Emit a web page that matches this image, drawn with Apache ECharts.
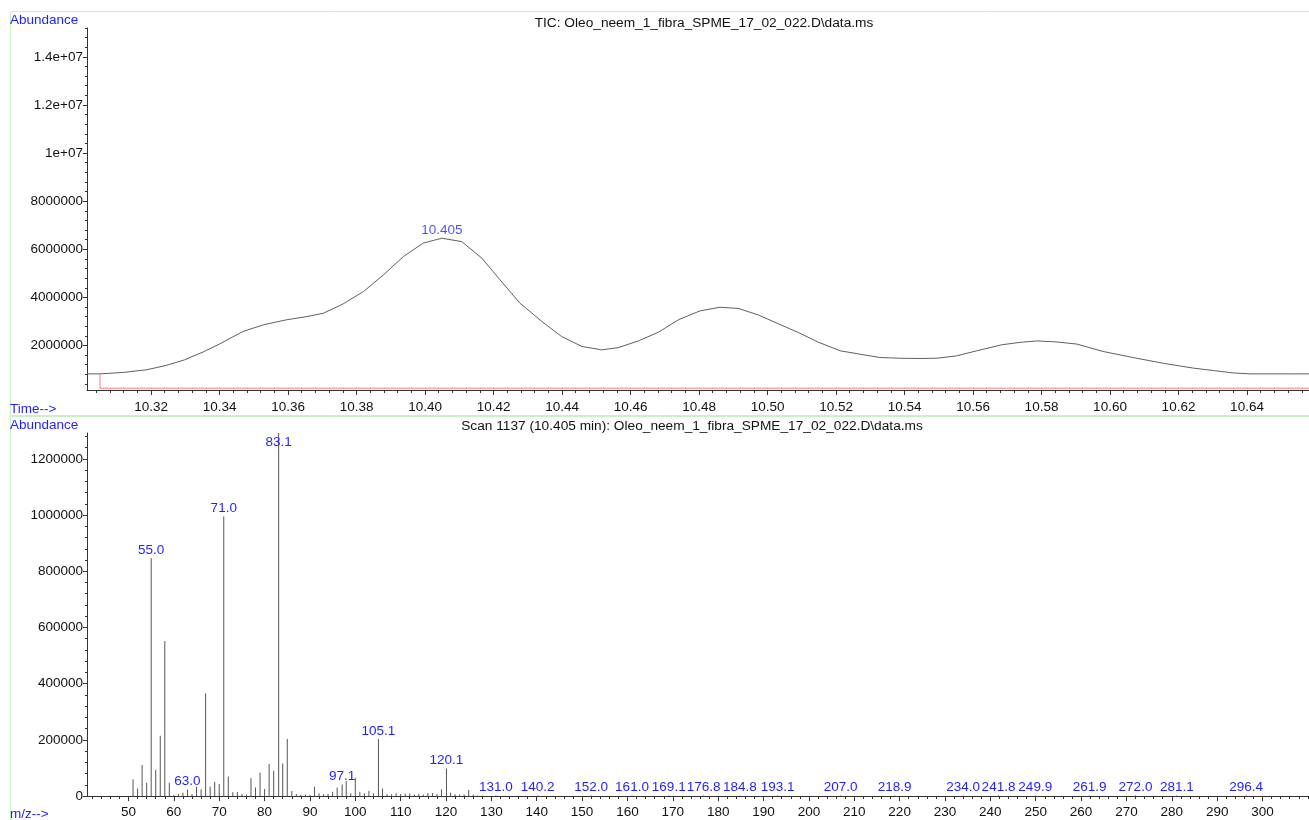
<!DOCTYPE html>
<html><head><meta charset="utf-8">
<script src="https://cdn.jsdelivr.net/npm/echarts@6/dist/echarts.min.js"></script>
<style>html,body{margin:0;padding:0;background:#fff}#c{width:1309px;height:820px}</style>
</head><body><div id="c"></div>
<script>
// ---------- TIC (top panel) ----------
const ticTimes = [10.3013,10.3051,10.3118,10.3187,10.3244,10.3297,10.3352,10.3401,10.3468,10.3528,10.3596,10.3650,10.3703,10.3761,10.3820,10.3878,10.3937,10.3995,10.4049,10.4107,10.4166,10.4219,10.4277,10.4341,10.4399,10.4458,10.4516,10.4564,10.4623,10.4681,10.4740,10.4803,10.4861,10.4915,10.4973,10.5032,10.5090,10.5148,10.5212,10.5270,10.5328,10.5387,10.5445,10.5494,10.5552,10.5611,10.5684,10.5737,10.5786,10.5842,10.5903,10.5980,10.6029,10.6078,10.6156,10.6243,10.6302,10.6360,10.6409,10.6467,10.6526,10.6581];
const ticAbund = [820000,820000,880000,990000,1170000,1400000,1730000,2070000,2580000,2860000,3070000,3190000,3340000,3730000,4240000,4930000,5700000,6260000,6460000,6320000,5630000,4730000,3760000,3000000,2370000,1960000,1820000,1910000,2190000,2550000,3070000,3440000,3590000,3540000,3270000,2900000,2540000,2140000,1780000,1640000,1500000,1470000,1460000,1470000,1570000,1780000,2030000,2130000,2190000,2150000,2060000,1750000,1610000,1470000,1260000,1060000,960000,860000,820000,820000,820000,820000];
const ticPeakTime = 10.4049;
const ticPeakAbund = 6460000;
const baselineTimes = [10.3051, 10.3051, 10.6581];
const baselineAbund = [820000, 225000, 225000];
const ticXTicks = [10.32,10.34,10.36,10.38,10.40,10.42,10.44,10.46,10.48,10.50,10.52,10.54,10.56,10.58,10.60,10.62,10.64];
const ticYTicks = [2000000,4000000,6000000,8000000,10000000,12000000,14000000];
const ticYLabels = ['2000000','4000000','6000000','8000000','1e+07','1.2e+07','1.4e+07'];

// ---------- Mass spectrum (bottom panel) ----------
const msMz = [51,52,53,54,55.0,56,57,58,59,60,61,62,63.0,64,65,66,67,68,69,70,71.0,72,73,74,75,76,77,78,79,80,81,82,83.1,84,85,86,87,88,89,90,91,92,93,94,95,96,97.1,98,99,100,101,102,103,104,105.1,106,107,108,109,110,111,112,113,114,115,116,117,118,119,120.1,121,122,123,124,125,126,127,128,131.0,140.2,152.0,161.0,169.1,176.8,184.8,193.1,207.0,218.9,234.0,241.8,249.9,261.9,272.0,281.1,296.4];
const msAbund = [60000,27000,110000,47000,846000,93000,214000,552000,47000,4000,7000,12000,23000,7000,33000,24000,366000,33000,51000,43000,995000,69000,13000,14000,7000,5000,63000,30000,84000,25000,114000,90000,1292000,116000,203000,18000,7000,4000,5000,4000,33000,10000,6000,7000,15000,30000,41000,53000,10000,65000,15000,10000,18000,10000,203000,27000,7000,6000,10000,7000,8000,9000,5000,7000,5000,11000,11000,7000,24000,98000,12000,6000,5000,5000,21000,5000,2000,2000,2000,2000,2000,2000,2000,2000,2000,2000,2000,2000,2000,2000,2000,2000,2000,2000,2000];
const msLabeled = [55.0,63.0,71.0,83.1,97.1,105.1,120.1,131.0,140.2,152.0,161.0,169.1,176.8,184.8,193.1,207.0,218.9,234.0,241.8,249.9,261.9,272.0,281.1,296.4];
const msXTicks = [50,60,70,80,90,100,110,120,130,140,150,160,170,180,190,200,210,220,230,240,250,260,270,280,290,300];
const msYTicks = [0,200000,400000,600000,800000,1000000,1200000];

// ---------- build ----------
const BLUE = '#1f1fff';
const AX = '#333';
const FONT = 'Liberation Sans';
const FS = 13.5;
function range(a, b, step, dec) { const r = []; for (let v = a; v <= b + 1e-9; v += step) r.push(+v.toFixed(dec)); return r; }
const topXMin = 10.3013, topXMax = 10.6581, topYMin = 150000, topYMax = 15200000;
const botXMin = 40.85, botXMax = 310.25, botYMin = 0, botYMax = 1292000;

function mainAxis(grid, min, max, ticks, fmt, isY, margin) {
  return {
    type: 'value', gridIndex: grid, min: min, max: max, position: isY ? 'left' : 'bottom',
    axisLine: { show: true, onZero: false, lineStyle: { color: AX, width: 1 } },
    axisTick: { show: true, customValues: ticks, length: isY ? 4 : 5, lineStyle: { color: AX } },
    axisLabel: { show: true, customValues: ticks, formatter: fmt, color: '#111', fontSize: FS, fontFamily: FONT, margin: margin },
    splitLine: { show: false }
  };
}
function minorAxis(grid, min, max, ticks, isY) {
  return {
    type: 'value', gridIndex: grid, min: min, max: max, position: isY ? 'left' : 'bottom', offset: 0,
    axisLine: { show: false, onZero: false },
    axisTick: { show: true, customValues: ticks, length: isY ? 2 : 3, lineStyle: { color: AX } },
    axisLabel: { show: false }, splitLine: { show: false }
  };
}

const option = {
  animation: false,
  backgroundColor: '#fff',
  grid: [
    { left: 87, top: 28, width: 1222, height: 362 },
    { left: 87, top: 433, width: 1222, height: 363 }
  ],
  xAxis: [
    mainAxis(0, topXMin, topXMax, ticXTicks, v => v.toFixed(2), false, 10),
    minorAxis(0, topXMin, topXMax, range(10.304, 10.656, 0.004, 3), false),
    mainAxis(1, botXMin, botXMax, msXTicks, v => String(Math.round(v)), false, 9),
    minorAxis(1, botXMin, botXMax, range(42, 310, 2, 0), false)
  ],
  yAxis: [
    mainAxis(0, topYMin, topYMax, ticYTicks, v => ticYLabels[ticYTicks.indexOf(v)], true, 4),
    minorAxis(0, topYMin, topYMax, range(400000, 15200000, 400000, 0), true),
    mainAxis(1, botYMin, botYMax, msYTicks, v => String(v), true, 4),
    minorAxis(1, botYMin, botYMax, range(40000, 1280000, 40000, 0), true)
  ],
  series: [
    { type: 'line', xAxisIndex: 0, yAxisIndex: 0, symbol: 'none', silent: true,
      lineStyle: { color: '#5f5f5f', width: 1 },
      data: ticTimes.map((t, i) => [t, ticAbund[i]]) },
    { type: 'line', xAxisIndex: 0, yAxisIndex: 0, symbol: 'none', silent: true,
      lineStyle: { color: '#ff7a7a', width: 1 },
      data: baselineTimes.map((t, i) => [t, baselineAbund[i]]) },
    { type: 'scatter', xAxisIndex: 0, yAxisIndex: 0, symbolSize: 0, silent: true,
      label: { show: true, position: 'top', distance: 1, color: BLUE, fontSize: FS, fontFamily: FONT,
               formatter: p => p.value[0].toFixed(3) },
      data: [[ticPeakTime, ticPeakAbund]] },
    { type: 'bar', xAxisIndex: 2, yAxisIndex: 2, barWidth: 1, silent: true,
      itemStyle: { color: '#555' },
      data: msMz.map((m, i) => {
        const item = { value: [m, msAbund[i]] };
        if (msLabeled.indexOf(m) >= 0) {
          const atTop = msAbund[i] >= botYMax;
          item.label = { show: true, position: atTop ? 'insideTop' : 'top', distance: atTop ? 2 : 1,
            color: BLUE, fontSize: FS, fontFamily: FONT, formatter: p => p.value[0].toFixed(1) };
        }
        return item;
      }) }
  ],
  graphic: [
    { type: 'rect', silent: true, shape: { x: 10.5, y: 11.5, width: 1310, height: 404 }, style: { fill: 'none', stroke: '#c6f2c6', lineWidth: 1 } },
    { type: 'rect', silent: true, shape: { x: 10.5, y: 416.5, width: 1310, height: 410 }, style: { fill: 'none', stroke: '#c6f2c6', lineWidth: 1 } },
    { type: 'text', silent: true, x: 10, y: 13, style: { text: 'Abundance', fill: BLUE, font: '13.5px "Liberation Sans"' } },
    { type: 'text', silent: true, x: 10, y: 402, style: { text: 'Time-->', fill: BLUE, font: '13.5px "Liberation Sans"' } },
    { type: 'text', silent: true, x: 10, y: 418, style: { text: 'Abundance', fill: BLUE, font: '13.5px "Liberation Sans"' } },
    { type: 'text', silent: true, x: 10, y: 807, style: { text: 'm/z-->', fill: BLUE, font: '13.5px "Liberation Sans"' } },
    { type: 'text', silent: true, x: 704, y: 16, style: { text: 'TIC: Oleo_neem_1_fibra_SPME_17_02_022.D\\data.ms', fill: '#111', font: '13.7px "Liberation Sans"', textAlign: 'center' } },
    { type: 'text', silent: true, x: 692, y: 419, style: { text: 'Scan 1137 (10.405 min): Oleo_neem_1_fibra_SPME_17_02_022.D\\data.ms', fill: '#111', font: '13.7px "Liberation Sans"', textAlign: 'center' } }
  ]
};
const chart = echarts.init(document.getElementById('c'), null, { renderer: 'canvas' });
chart.setOption(option);
</script></body></html>
